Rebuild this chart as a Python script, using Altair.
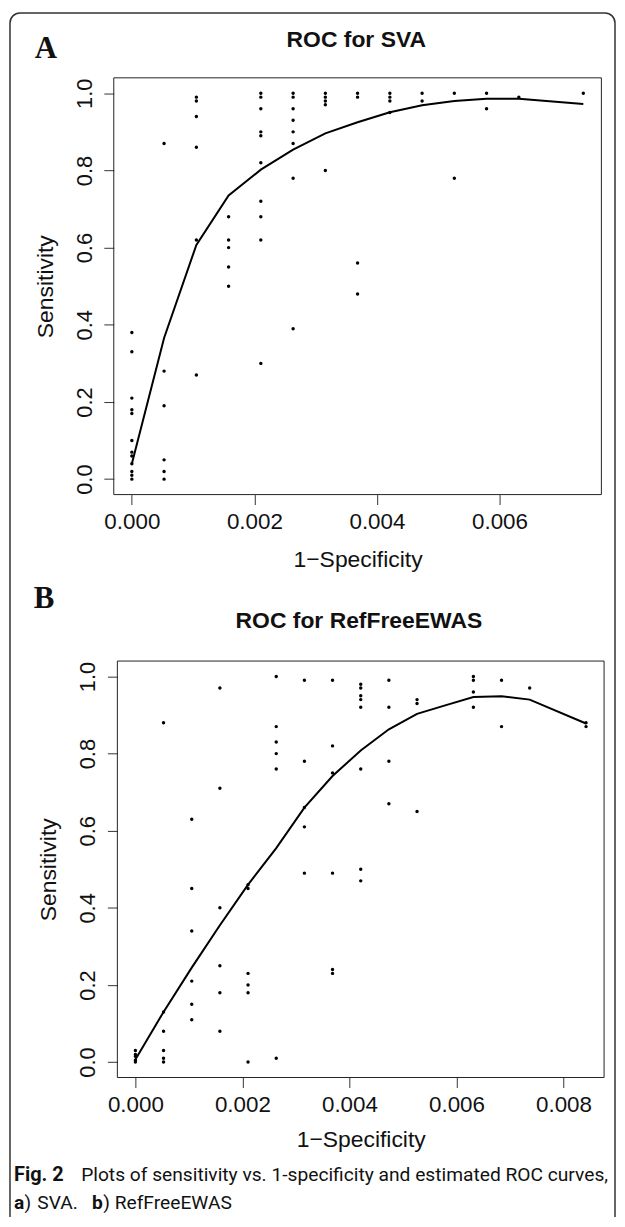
import altair as alt
import pandas as pd

# ---------------- data ----------------
# Panel A: ROC for SVA — observed points
sva_fpr = (
    [0.0] * 12
    + [0.000526] * 6
    + [0.001053] * 6
    + [0.001579] * 5
    + [0.002105] * 10
    + [0.002632] * 8
    + [0.003158] * 5
    + [0.003684] * 4
    + [0.004211] * 4
    + [0.004737] * 2
    + [0.005263] * 2
    + [0.005789] * 2
    + [0.006316] * 1
    + [0.007368] * 1
)
sva_sens = [
    0.38, 0.33, 0.21, 0.18, 0.17, 0.10, 0.07, 0.06, 0.04, 0.02, 0.01, 0.0,
    0.87, 0.28, 0.19, 0.05, 0.02, 0.0,
    0.99, 0.98, 0.94, 0.86, 0.62, 0.27,
    0.68, 0.62, 0.60, 0.55, 0.50,
    1.0, 0.99, 0.96, 0.90, 0.89, 0.82, 0.72, 0.68, 0.62, 0.30,
    1.0, 0.99, 0.96, 0.93, 0.90, 0.87, 0.78, 0.39,
    1.0, 0.99, 0.98, 0.97, 0.80,
    1.0, 0.99, 0.56, 0.48,
    1.0, 0.99, 0.98, 0.95,
    1.0, 0.98,
    1.0, 0.78,
    1.0, 0.96,
    0.99,
    1.0,
]
# Panel A: estimated ROC curve
sva_curve_fpr = [0.0, 0.000526, 0.001053, 0.001579, 0.002105, 0.002632, 0.003158,
                 0.003684, 0.004211, 0.004737, 0.005263, 0.005789, 0.006316, 0.007368]
sva_curve_sens = [0.04, 0.366, 0.607, 0.735, 0.802, 0.854, 0.896,
                  0.925, 0.951, 0.969, 0.980, 0.986, 0.986, 0.972]

# Panel B: ROC for RefFreeEWAS — observed points
ref_fpr = (
    [0.0] * 5
    + [0.000526] * 6
    + [0.001053] * 6
    + [0.001579] * 6
    + [0.002105] * 6
    + [0.002632] * 6
    + [0.003158] * 5
    + [0.003684] * 6
    + [0.004211] * 8
    + [0.004737] * 4
    + [0.005263] * 3
    + [0.006316] * 4
    + [0.006842] * 2
    + [0.007368] * 1
    + [0.008421] * 2
)
ref_sens = [
    0.03, 0.02, 0.015, 0.005, 0.0,
    0.88, 0.13, 0.08, 0.03, 0.01, 0.0,
    0.63, 0.45, 0.34, 0.21, 0.15, 0.11,
    0.97, 0.71, 0.40, 0.25, 0.18, 0.08,
    0.46, 0.45, 0.23, 0.20, 0.18, 0.0,
    1.0, 0.87, 0.83, 0.80, 0.76, 0.01,
    0.99, 0.78, 0.66, 0.61, 0.49,
    0.99, 0.82, 0.75, 0.49, 0.24, 0.23,
    0.98, 0.97, 0.95, 0.94, 0.92, 0.76, 0.50, 0.47,
    0.99, 0.92, 0.78, 0.67,
    0.94, 0.93, 0.65,
    1.0, 0.99, 0.96, 0.92,
    0.99, 0.87,
    0.97,
    0.88, 0.87,
]
# Panel B: estimated ROC curve
ref_curve_fpr = [0.0, 0.000526, 0.001053, 0.001579, 0.002105, 0.002632, 0.003158,
                 0.003684, 0.004211, 0.004737, 0.005263, 0.005789, 0.006316,
                 0.006842, 0.007368, 0.008421]
ref_curve_sens = [0.007, 0.13, 0.245, 0.355, 0.46, 0.555, 0.66,
                  0.742, 0.808, 0.863, 0.903, 0.925, 0.947,
                  0.949, 0.94, 0.878]

sva_xticks = [0.0, 0.002, 0.004, 0.006]
ref_xticks = [0.0, 0.002, 0.004, 0.006, 0.008]
yticks = [0.0, 0.2, 0.4, 0.6, 0.8, 1.0]

# ---------------- layout ----------------
W, H = 612, 1209
FONT = "Liberation Sans"
INK = "#111111"
CAP = "Roboto"
CAPSIZE = 19.3


def panel(pf, ps, cf, cs, xdom, ydom, xrng, yrng, xticks, xtitle_y):
    sx = alt.Scale(domain=xdom, range=xrng, nice=False, zero=False)
    sy = alt.Scale(domain=ydom, range=yrng, nice=False, zero=False)
    ax = alt.Axis(
        orient="bottom", offset=yrng[0] - H, values=xticks, format=".3f",
        domain=False, grid=False, tickSize=10, tickColor="#333333", tickWidth=1,
        labelFont=FONT, labelFontSize=22.5, labelColor=INK, labelPadding=6,
        labelFlush=False, labelOverlap=False,
        title="1\u2212Specificity", titleFont=FONT, titleFontSize=23,
        titleFontWeight="normal", titleColor=INK,
        titleX=(xrng[0] + xrng[1]) / 2, titleY=xtitle_y,
        titleAlign="center", titleBaseline="alphabetic", titleAngle=0,
    )
    ay = alt.Axis(
        orient="left", offset=-xrng[0], values=yticks, format=".1f",
        domain=False, grid=False, tickSize=10, tickColor="#333333", tickWidth=1,
        labelFont=FONT, labelFontSize=22, labelColor=INK, labelPadding=12.5,
        labelAngle=270, labelAlign="center", labelBaseline="alphabetic",
        labelFlush=False, labelOverlap=False,
        title="Sensitivity", titleFont=FONT, titleFontSize=23,
        titleFontWeight="normal", titleColor=INK,
        titleX=-62, titleY=(yrng[0] + yrng[1]) / 2,
        titleAngle=270, titleAlign="center", titleBaseline="alphabetic",
    )

    def X(f):
        return alt.X(f, type="quantitative", scale=sx, axis=ax)

    def Y(f):
        return alt.Y(f, type="quantitative", scale=sy, axis=ay)

    pts = alt.Chart(pd.DataFrame({"fpr": pf, "sens": ps})).mark_circle(
        size=12, color="black", opacity=1
    ).encode(x=X("fpr"), y=Y("sens"))
    cur = alt.Chart(pd.DataFrame({"fpr": cf, "sens": cs})).mark_line(
        color="black", strokeWidth=2
    ).encode(x=X("fpr"), y=Y("sens"), order="fpr:Q")
    frame = alt.Chart(pd.DataFrame({"fpr": [xdom[0]], "fpr2": [xdom[1]],
                                    "sens": [ydom[0]], "sens2": [ydom[1]]})).mark_rect(
        fill="white", fillOpacity=0, stroke="#222222", strokeWidth=1
    ).encode(x=X("fpr"), x2="fpr2", y=Y("sens"), y2="sens2")
    return alt.layer(pts, cur, frame)


panelA = panel(sva_fpr, sva_sens, sva_curve_fpr, sva_curve_sens,
               [-0.000295, 0.007663], [-0.04, 1.04], [106.3, 596.3], [486.0, 67.2],
               sva_xticks, 72.5)
panelB = panel(ref_fpr, ref_sens, ref_curve_fpr, ref_curve_sens,
               [-0.000337, 0.008758], [-0.04, 1.04], [109.9, 599.0], [1071.8, 653.3],
               ref_xticks, 69.0)

one = pd.DataFrame({"k": [0]})


def label(text, x, y, size, weight="normal", font=FONT, align="left"):
    return alt.Chart(one).mark_text(
        text=text, font=font, fontSize=size, fontWeight=weight, color=INK,
        align=align, baseline="alphabetic"
    ).encode(x=alt.value(x), y=alt.value(y))


border = alt.Chart(one).mark_rect(
    fill="white", fillOpacity=0, stroke="#333333", strokeWidth=1.5, cornerRadius=10
).encode(x=alt.value(2), x2=alt.value(610), y=alt.value(2), y2=alt.value(1226))

texts = [
    label("A", 27, 47, 31, "bold", "Liberation Serif"),
    label("ROC for SVA", 350, 36, 23, "bold", align="center"),
    label("B", 26, 600, 31, "bold", "Liberation Serif"),
    label("ROC for RefFreeEWAS", 352.6, 620.3, 23, "bold", align="center"),
    label("Fig. 2", 6, 1175.5, 20, "bold", CAP),
    label("Plots of sensitivity vs. 1-specificity and estimated ROC curves,", 73.5, 1175.5, CAPSIZE, "normal", CAP),
    label("a", 6, 1204, CAPSIZE, "bold", CAP),
    label(")", 16.7, 1204, CAPSIZE, "normal", CAP),
    label("SVA.", 29.5, 1204, CAPSIZE, "normal", CAP),
    label("b", 84.5, 1204, CAPSIZE, "bold", CAP),
    label(")", 95.6, 1204, CAPSIZE, "normal", CAP),
    label("RefFreeEWAS", 107.2, 1204, CAPSIZE, "normal", CAP),
]

chart = alt.layer(border, panelA, panelB, *texts).resolve_scale(
    x="independent", y="independent"
).properties(
    width=W, height=H, autosize=alt.AutoSizeParams(type="none"), padding=0
).configure_view(strokeWidth=0)

chart.save("out.html", embed_options={"renderer": "svg", "actions": False})
